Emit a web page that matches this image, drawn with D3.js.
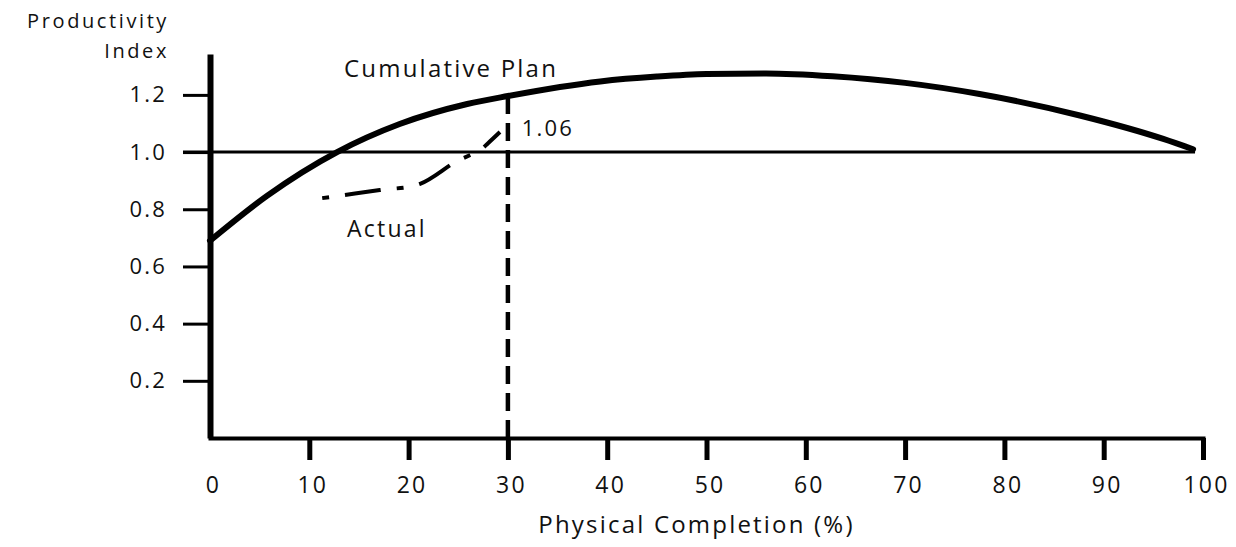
<!DOCTYPE html>
<html>
<head>
<meta charset="utf-8">
<script src="https://cdn.jsdelivr.net/npm/d3@7"></script>
<style>
  html, body { margin: 0; padding: 0; background: #fff; }
  svg { display: block; }
  text { font-family: "Open Sans", sans-serif; fill: #111; }
</style>
</head>
<body>
<svg id="chart" width="1236" height="547"></svg>
<script>
// ---- data ----
const xTicks = [0, 10, 20, 30, 40, 50, 60, 70, 80, 90, 100];
const yTicks = [0.2, 0.4, 0.6, 0.8, 1.0, 1.2];
const yTickLabels = ["0.2", "0.4", "0.6", "0.8", "1.0", "1.2"];

const planX = [0, 5.7, 12.8, 19.1, 25.9, 30, 39.3, 45, 50, 56, 62.7, 70, 77.5, 87.6, 96, 99];
const planY = [0.69, 0.846, 1.0, 1.098, 1.168, 1.196, 1.247, 1.264, 1.273, 1.275, 1.265, 1.242, 1.203, 1.128, 1.046, 1.01];

const actualX = [11.3, 17.1, 21.1, 24.7, 27.2, 28.0, 29.2];
const actualY = [0.839, 0.867, 0.888, 0.965, 1.007, 1.031, 1.07];

const markerX = 30;          // vertical dashed marker at 30 %
const markerPlan = 1.196;    // plan value at 30 %
const actualLabel = "1.06";
const referenceLevel = 1.0;

// ---- layout ----
const svg = d3.select("#chart");
const x = d3.scaleLinear().domain([0, 100]).range([210, 1203]);
const y = d3.scaleLinear().domain([0, 1.343]).range([438, 54]);

const LS = "2.2px";

// reference line at 1.0
svg.append("line")
  .attr("x1", x(0) - 27).attr("x2", x(99.2))
  .attr("y1", y(referenceLevel)).attr("y2", y(referenceLevel))
  .attr("stroke", "#000").attr("stroke-width", 3);

// Y axis
const yAxis = d3.axisLeft(y)
  .tickValues(yTicks)
  .tickFormat((d, i) => yTickLabels[i])
  .tickSize(27).tickPadding(16).tickSizeOuter(0);
const gy = svg.append("g").attr("transform", `translate(${x(0)},0)`).call(yAxis);
gy.select(".domain").attr("stroke", "#000").attr("stroke-width", 6);
gy.selectAll(".tick line").attr("stroke", "#000").attr("stroke-width", 3);
gy.selectAll(".tick text").attr("font-size", 22).attr("fill", "#111")
  .style("font-family", '"Open Sans", sans-serif').style("letter-spacing", LS);

// X axis
const xAxis = d3.axisBottom(x)
  .tickValues(xTicks)
  .tickFormat(d3.format("d"))
  .tickSize(22).tickPadding(17).tickSizeOuter(0);
const gx = svg.append("g").attr("transform", `translate(0,${y(0)})`).call(xAxis);
gx.select(".domain").attr("stroke", "#000").attr("stroke-width", 4)
  .attr("stroke-linecap", "square");
gx.selectAll(".tick line").attr("stroke", "#000").attr("stroke-width", 5)
  .attr("opacity", d => d === 0 ? 0 : 1);
gx.selectAll(".tick text").attr("font-size", 23).attr("fill", "#111")
  .attr("dx", 3)
  .style("font-family", '"Open Sans", sans-serif').style("letter-spacing", LS);

// vertical dashed marker
svg.append("line")
  .attr("x1", x(markerX)).attr("x2", x(markerX))
  .attr("y1", y(markerPlan)).attr("y2", y(0))
  .attr("stroke", "#000").attr("stroke-width", 4.5)
  .attr("stroke-dasharray", "18,9");

// cumulative plan curve
const planData = planX.map((d, i) => [d, planY[i]]);
svg.append("path")
  .datum(planData)
  .attr("fill", "none").attr("stroke", "#000").attr("stroke-width", 6)
  .attr("stroke-linecap", "round")
  .attr("d", d3.line().x(d => x(d[0])).y(d => y(d[1])).curve(d3.curveMonotoneX));

// actual curve (dash-dot)
const actualData = actualX.map((d, i) => [d, actualY[i]]);
svg.append("path")
  .datum(actualData)
  .attr("fill", "none").attr("stroke", "#000").attr("stroke-width", 4)
  .attr("stroke-dasharray", "7,16,36,16")
  .attr("d", d3.line().x(d => x(d[0])).y(d => y(d[1])).curve(d3.curveCatmullRom.alpha(0.5)));

// annotations
function label(text, px, py, size, anchor, ls) {
  svg.append("text")
    .attr("x", px).attr("y", py)
    .attr("font-size", size)
    .attr("text-anchor", anchor || "start")
    .style("letter-spacing", ls || LS)
    .text(text);
}
label("Cumulative Plan", x(13.5), y(1.262), 24);
label("Actual", x(13.8), y(0.703), 23);
label(actualLabel, x(31.4), y(1.056), 22);

// axis titles
label("Productivity", x(0) - 41, 28, 20, "end", "2.6px");
label("Index", x(0) - 41, 58, 20, "end", "2.6px");
label("Physical Completion (%)", (x(0) + x(100)) / 2 - 10, 533, 24, "middle");
</script>
</body>
</html>
